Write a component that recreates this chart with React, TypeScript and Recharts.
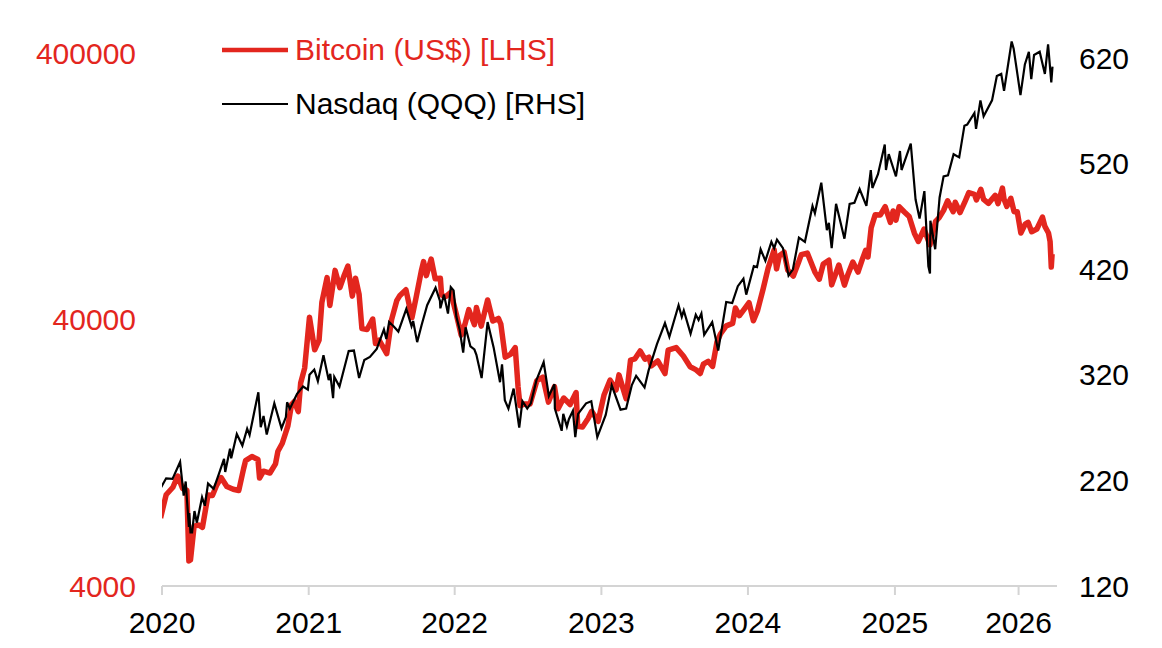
import React from 'react';
import { LineChart, Line, XAxis, YAxis, Legend } from 'recharts';

// Bitcoin close, US$ (left axis, log scale)
const btcDates = [
  '2020-01-01', '2020-01-15', '2020-02-01', '2020-02-13', '2020-02-25', '2020-03-07', '2020-03-12', '2020-03-16',
  '2020-03-25', '2020-04-05', '2020-04-15', '2020-04-29', '2020-05-10', '2020-05-20', '2020-06-01', '2020-06-15',
  '2020-07-01', '2020-07-15', '2020-07-27', '2020-08-01', '2020-08-17', '2020-09-01', '2020-09-05', '2020-09-15',
  '2020-10-01', '2020-10-15', '2020-10-21', '2020-11-01', '2020-11-15', '2020-11-24', '2020-12-01', '2020-12-11',
  '2020-12-17', '2020-12-27', '2021-01-08', '2021-01-21', '2021-02-01', '2021-02-08', '2021-02-21', '2021-02-28',
  '2021-03-13', '2021-03-25', '2021-04-05', '2021-04-14', '2021-04-25', '2021-05-03', '2021-05-12', '2021-05-19',
  '2021-06-01', '2021-06-15', '2021-06-22', '2021-07-01', '2021-07-20', '2021-08-01', '2021-08-14', '2021-08-22',
  '2021-09-06', '2021-09-21', '2021-10-01', '2021-10-15', '2021-10-20', '2021-10-27', '2021-11-08', '2021-11-18',
  '2021-12-01', '2021-12-04', '2021-12-15', '2021-12-27', '2022-01-10', '2022-01-22', '2022-02-01', '2022-02-10',
  '2022-02-24', '2022-03-01', '2022-03-13', '2022-03-29', '2022-04-11', '2022-04-25', '2022-05-01', '2022-05-12',
  '2022-05-25', '2022-06-06', '2022-06-13', '2022-06-18', '2022-07-01', '2022-07-13', '2022-07-30', '2022-08-14',
  '2022-08-28', '2022-09-12', '2022-09-21', '2022-10-05', '2022-10-21', '2022-11-05', '2022-11-09', '2022-11-21',
  '2022-12-05', '2022-12-14', '2022-12-30', '2023-01-14', '2023-01-29', '2023-02-13', '2023-02-20', '2023-03-10',
  '2023-03-21', '2023-04-01', '2023-04-14', '2023-04-26', '2023-05-06', '2023-05-12', '2023-05-28', '2023-06-15',
  '2023-06-23', '2023-07-13', '2023-07-31', '2023-08-17', '2023-09-01', '2023-09-11', '2023-09-19', '2023-10-01',
  '2023-10-12', '2023-10-23', '2023-11-01', '2023-11-15', '2023-12-01', '2023-12-08', '2023-12-18', '2024-01-01',
  '2024-01-11', '2024-01-22', '2024-02-01', '2024-02-15', '2024-02-28', '2024-03-14', '2024-03-20', '2024-03-27',
  '2024-04-08', '2024-04-17', '2024-05-01', '2024-05-15', '2024-05-21', '2024-06-05', '2024-06-24', '2024-07-05',
  '2024-07-15', '2024-07-29', '2024-08-05', '2024-08-23', '2024-09-06', '2024-09-15', '2024-09-27', '2024-10-10',
  '2024-10-21', '2024-10-29', '2024-11-04', '2024-11-12', '2024-11-22', '2024-12-05', '2024-12-17', '2024-12-30',
  '2025-01-06', '2025-01-13', '2025-01-21', '2025-02-03', '2025-02-15', '2025-02-28', '2025-03-10', '2025-03-24',
  '2025-04-08', '2025-04-22', '2025-05-01', '2025-05-12', '2025-05-22', '2025-06-05', '2025-06-10', '2025-06-22',
  '2025-07-03', '2025-07-14', '2025-07-28', '2025-08-02', '2025-08-13', '2025-08-20', '2025-09-01', '2025-09-18',
  '2025-09-25', '2025-10-06', '2025-10-10', '2025-10-17', '2025-10-27', '2025-11-04', '2025-11-12', '2025-11-21',
  '2025-12-02', '2025-12-09', '2025-12-18', '2025-12-31', '2026-01-14', '2026-01-20', '2026-01-29', '2026-02-02',
  '2026-02-05', '2026-02-07',
];
const btcPrices = [
  7200, 8800, 9390, 10350, 9300, 9150, 4970, 5010,
  6700, 6780, 6640, 8790, 8750, 9520, 10200, 9450,
  9230, 9130, 11020, 11820, 12250, 11930, 10170, 10790,
  10620, 11500, 12820, 13740, 15960, 19170, 19700, 18060,
  23140, 26300, 40800, 30800, 33500, 46400, 57500, 45200,
  61200, 52700, 58800, 63500, 49000, 57200, 49700, 37000,
  36700, 40200, 32500, 33500, 29800, 39900, 47100, 49300,
  51750, 40700, 48100, 61500, 66000, 58500, 67500, 56900,
  57200, 49400, 48900, 50600, 41800, 35000, 38700, 43600,
  38300, 44400, 37800, 47400, 39500, 40400, 38500, 28900,
  29600, 31400, 22400, 19000, 19300, 19300, 23600, 24300,
  19600, 22400, 18500, 20300, 19200, 21300, 15900, 15800,
  17000, 18100, 16600, 20900, 23700, 21800, 24800, 20200,
  28200, 28500, 30500, 28400, 28900, 26800, 28000, 25100,
  30700, 31400, 29200, 26600, 25900, 25100, 27200, 27900,
  26700, 33000, 35400, 37900, 38700, 44200, 41400, 44200,
  46300, 39600, 43100, 51900, 62500, 73100, 62000, 69500,
  71600, 61300, 58300, 66200, 70100, 71100, 60300, 56700,
  64700, 66800, 54000, 64100, 53900, 59200, 65800, 60300,
  67400, 72700, 68700, 88600, 98900, 98800, 106100, 92700,
  102300, 94500, 106100, 101400, 97500, 84400, 78600, 87500,
  76300, 93400, 96500, 102800, 111700, 101600, 110300, 100900,
  109600, 119800, 118100, 112500, 123300, 113000, 109200, 117100,
  109000, 124700, 113200, 106400, 114100, 101600, 101600, 84600,
  91300, 92700, 85500, 87500, 97000, 89500, 84500, 78600,
  63000, 70500,
];

// Nasdaq 100 ETF (QQQ) close, US$ (right axis)
const qqqDates = [
  '2020-01-01', '2020-01-15', '2020-01-31', '2020-02-19', '2020-02-28', '2020-03-04', '2020-03-12', '2020-03-13',
  '2020-03-16', '2020-03-20', '2020-03-26', '2020-04-01', '2020-04-14', '2020-04-21', '2020-04-29', '2020-05-13',
  '2020-05-26', '2020-06-08', '2020-06-11', '2020-06-23', '2020-06-26', '2020-07-10', '2020-07-24', '2020-08-05',
  '2020-08-11', '2020-08-25', '2020-09-02', '2020-09-08', '2020-09-15', '2020-09-23', '2020-10-12', '2020-10-30',
  '2020-11-10', '2020-11-13', '2020-11-20', '2020-12-08', '2020-12-23', '2021-01-04', '2021-01-08', '2021-01-20',
  '2021-01-29', '2021-02-12', '2021-02-25', '2021-03-01', '2021-03-08', '2021-03-11', '2021-03-24', '2021-04-16',
  '2021-04-29', '2021-05-12', '2021-05-25', '2021-06-08', '2021-06-25', '2021-07-13', '2021-07-19', '2021-07-26',
  '2021-08-06', '2021-08-18', '2021-09-07', '2021-09-20', '2021-09-24', '2021-10-04', '2021-10-15', '2021-10-29',
  '2021-11-19', '2021-11-30', '2021-12-01', '2021-12-10', '2021-12-20', '2021-12-27', '2022-01-03', '2022-01-10',
  '2022-01-18', '2022-01-27', '2022-02-02', '2022-02-14', '2022-02-24', '2022-03-01', '2022-03-14', '2022-03-29',
  '2022-04-13', '2022-04-29', '2022-05-04', '2022-05-11', '2022-05-20', '2022-06-02', '2022-06-16', '2022-06-24',
  '2022-07-06', '2022-07-15', '2022-07-29', '2022-08-16', '2022-08-29', '2022-09-12', '2022-09-13', '2022-09-30',
  '2022-10-04', '2022-10-13', '2022-10-18', '2022-10-28', '2022-11-03', '2022-11-10', '2022-11-30', '2022-12-13',
  '2022-12-28', '2023-01-06', '2023-01-18', '2023-02-02', '2023-02-24', '2023-03-10', '2023-03-24', '2023-04-04',
  '2023-04-25', '2023-05-05', '2023-05-26', '2023-06-15', '2023-06-26', '2023-07-19', '2023-07-27', '2023-08-01',
  '2023-08-18', '2023-08-31', '2023-09-07', '2023-09-14', '2023-09-21', '2023-10-11', '2023-10-26', '2023-11-15',
  '2023-11-30', '2023-12-14', '2023-12-28', '2024-01-04', '2024-01-23', '2024-01-31', '2024-02-09', '2024-02-21',
  '2024-03-07', '2024-03-14', '2024-03-21', '2024-04-05', '2024-04-19', '2024-04-30', '2024-05-15', '2024-05-30',
  '2024-06-18', '2024-06-24', '2024-07-10', '2024-07-24', '2024-07-29', '2024-08-05', '2024-08-16', '2024-09-06',
  '2024-09-19', '2024-10-01', '2024-10-14', '2024-10-31', '2024-11-11', '2024-11-15', '2024-11-29', '2024-12-16',
  '2024-12-19', '2024-12-26', '2025-01-07', '2025-01-13', '2025-01-23', '2025-01-27', '2025-02-19', '2025-03-03',
  '2025-03-13', '2025-03-25', '2025-04-04', '2025-04-08', '2025-04-09', '2025-04-21', '2025-05-02', '2025-05-12',
  '2025-05-23', '2025-06-06', '2025-06-20', '2025-07-03', '2025-07-10', '2025-07-28', '2025-08-01', '2025-08-12',
  '2025-08-20', '2025-09-10', '2025-09-22', '2025-10-03', '2025-10-10', '2025-10-29', '2025-11-03', '2025-11-20',
  '2025-12-01', '2025-12-11', '2025-12-17', '2025-12-24', '2026-01-07', '2026-01-20', '2026-01-28', '2026-02-05',
  '2026-02-08',
];
const qqqPrices = [
  212.6, 222, 221.5, 237.5, 205.6, 219, 176, 189,
  170.7, 170.7, 191, 180, 204, 196, 217, 212,
  226, 240.5, 228, 250, 241, 264, 253, 269,
  263, 289, 303.5, 270.4, 281, 263.4, 293, 269.4,
  280, 294, 288, 302, 309, 306, 320, 325,
  314, 338.5, 315, 321, 298, 318, 309, 342.5,
  343, 317, 334, 337, 344.5, 363, 354, 370,
  366, 361, 382.5, 366, 371, 351, 367, 386,
  402.5, 390, 383, 396, 378, 403, 400, 375,
  363, 341, 365, 347, 344, 339, 317, 370,
  346, 313, 330, 296, 288, 307, 270, 295,
  288, 293, 315, 332, 300, 311, 288, 267,
  283, 271, 278, 286, 261, 283, 293, 295,
  261, 270, 282, 310, 287, 288, 310, 319,
  308, 324, 349, 369, 356, 386, 375, 381,
  359, 377, 372, 378, 358, 370, 343, 389,
  388, 404, 411, 396, 423, 422, 439, 428,
  446, 440, 448, 440, 414, 420, 450, 446,
  480, 473, 502, 457, 464, 440, 482, 449,
  482, 483, 496, 480, 514, 497, 510, 538.2,
  514, 529, 515, 508, 532, 514, 539, 486,
  468, 494, 422.7, 416, 466, 439, 488, 508,
  509, 529, 526, 556, 557, 568, 553, 580,
  565, 580, 603, 605, 589, 635.8, 629, 585,
  614, 626, 600, 623, 626, 605, 633, 597,
  612,
];

// x-axis: tick positions where the source chart draws its year marks (the last one is early)
const yearTicks = [2020.01, 2021.014, 2022.013, 2023.017, 2024.02, 2025.026, 2025.872];
const yearLabels = ['2020', '2021', '2022', '2023', '2024', '2025', '2026'];
const btcTicks = [4000, 40000, 400000];
const qqqTicks = [120, 220, 320, 420, 520, 620];

const RED = '#e3261e';
const FONT = '"Liberation Sans", Arial, sans-serif';

const toYear = (d: string) => {
  const [y, m, day] = d.split('-').map(Number);
  const start = Date.UTC(y, 0, 1);
  const end = Date.UTC(y + 1, 0, 1);
  return y + (Date.UTC(y, m - 1, day) - start) / (end - start);
};

const btcData = btcDates.map((d, i) => ({ t: toYear(d), btc: btcPrices[i] }));
const qqqData = qqqDates.map((d, i) => ({ t: toYear(d), qqq: qqqPrices[i] }));

const legendItems = [
  { label: 'Bitcoin (US$) [LHS]', color: RED, width: 4.5 },
  { label: 'Nasdaq (QQQ) [RHS]', color: '#000', width: 2 },
];

const renderLegend = () => (
  <div style={{ fontFamily: FONT, fontSize: 30 }}>
    {legendItems.map((item) => (
      <div key={item.label} style={{ display: 'flex', alignItems: 'center', height: 54 }}>
        <svg width={66} height={10} style={{ marginRight: 7 }}>
          <line x1={0} y1={5} x2={66} y2={5} stroke={item.color} strokeWidth={item.width} />
        </svg>
        <span style={{ color: item.color, whiteSpace: 'nowrap' }}>{item.label}</span>
      </div>
    ))}
  </div>
);

const App: React.FC = () => {
  return (
    <div style={{ position: 'absolute', left: 0, top: 0, background: '#fff' }}>
      <LineChart width={1162} height={648} margin={{ top: 37, right: 15, bottom: 12, left: 32 }}>
        <XAxis
          dataKey="t"
          type="number"
          domain={[2020.01, 2026.135]}
          ticks={yearTicks}
          tickFormatter={(v: number) => yearLabels[yearTicks.indexOf(v)]}
          allowDataOverflow
          height={50}
          axisLine={{ stroke: '#d4d4d4', strokeWidth: 2 }}
          tickLine={{ stroke: '#d4d4d4', strokeWidth: 2 }}
          tickSize={9}
          tickMargin={17}
          tick={{ fill: '#000', fontSize: 30, fontFamily: FONT }}
          interval={0}
        />
        <YAxis
          yAxisId="btc"
          scale="log"
          domain={[4000, 460000]}
          ticks={btcTicks}
          allowDataOverflow
          width={130}
          axisLine={false}
          tickLine={false}
          tickSize={0}
          tickMargin={26}
          tick={{ fill: RED, fontSize: 30, fontFamily: FONT }}
          interval={0}
        />
        <YAxis
          yAxisId="qqq"
          orientation="right"
          domain={[120, 640]}
          ticks={qqqTicks}
          allowDataOverflow
          width={90}
          axisLine={false}
          tickLine={false}
          tickSize={0}
          tickMargin={22}
          tick={{ fill: '#000', fontSize: 30, fontFamily: FONT }}
          interval={0}
        />
        <Legend
          content={renderLegend}
          layout="horizontal"
          verticalAlign="middle"
          align="center"
          wrapperStyle={{ left: 222, top: 23, width: 'auto', height: 'auto' }}
        />
        <Line
          yAxisId="btc"
          data={btcData}
          dataKey="btc"
          type="linear"
          stroke={RED}
          strokeWidth={5.5}
          strokeLinejoin="round"
          dot={false}
          isAnimationActive={false}
        />
        <Line
          yAxisId="qqq"
          data={qqqData}
          dataKey="qqq"
          type="linear"
          stroke="#000"
          strokeWidth={2.2}
          dot={false}
          isAnimationActive={false}
        />
      </LineChart>
    </div>
  );
};

export default App;
